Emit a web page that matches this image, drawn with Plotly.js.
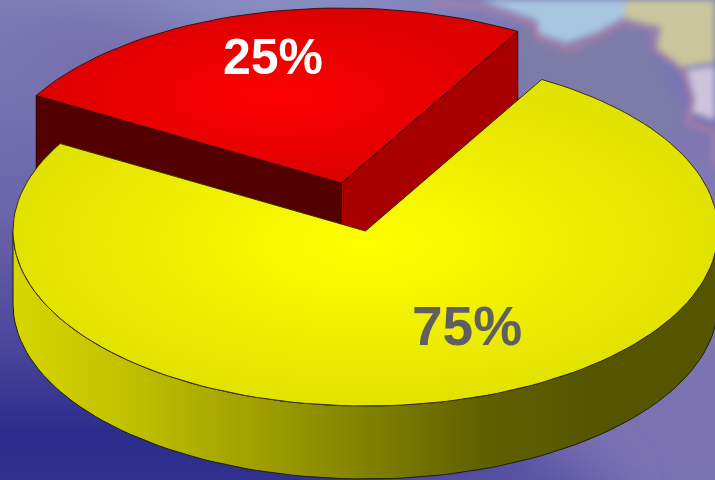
<!DOCTYPE html>
<html><head><meta charset="utf-8">
<script src="https://cdn.plot.ly/plotly-3.0.1.min.js"></script>
<style>html,body{margin:0;padding:0;background:#6a64a8;overflow:hidden}#c{width:715px;height:480px}</style>
</head><body><div id="c"></div>
<script>
const categories = ['25%', '75%'];
const values = [25, 75];
const topStops = [['#ff0000', '#dc0000'], ['#ffff00', '#e2e200']];
const labelColors = ['#ffffff', '#5f5f5f'];

// Projection of the tilted disc
const W = 715, H = 480;
const cx = 365.5, cy = 231, rx = 352.5, ry = 175, depth = 73;
const startAngle = 60;
const explode = [[-24, -48], [0, 0]];
const labelPos = [[273, 61], [467, 331]];

const total = values.reduce((a, b) => a + b, 0);
const pt = (deg, dx, dy, drop) => [
  cx + dx + rx * Math.cos(deg * Math.PI / 180),
  cy + dy + (drop || 0) - ry * Math.sin(deg * Math.PI / 180)
];
function arc(a0, a1, dx, dy, drop) {
  const n = Math.max(2, Math.ceil(Math.abs(a1 - a0) / 2)), out = [];
  for (let i = 0; i <= n; i++) out.push(pt(a0 + (a1 - a0) * i / n, dx, dy, drop));
  return out;
}
const poly = (pts, extra) => Object.assign({
  type: 'scatter', mode: 'lines', hoverinfo: 'skip', showlegend: false,
  x: pts.map(p => p[0]), y: pts.map(p => p[1]), fill: 'toself',
  line: {color: '#2a2210', width: 1}
}, extra);

// Slice angles from the values
let a = startAngle;
const slices = values.map((v, i) => {
  const s = {a0: a, a1: a + v / total * 360, dx: explode[i][0], dy: explode[i][1]};
  a = s.a1; return s;
});
const traces = [];

// Red slice
{
  const s = slices[0], apex = [cx + s.dx, cy + s.dy];
  const down = p => [p[0], p[1] + depth];
  const r0 = pt(s.a0, s.dx, s.dy), r1 = pt(s.a1, s.dx, s.dy);
  traces.push(poly([apex, r1, down(r1), down(apex), apex], {fillcolor: '#520000', line: {color: '#2a0000', width: 1}}));
  traces.push(poly([apex, r0, down(r0), down(apex), apex], {fillcolor: '#a80000', line: {color: '#3a0000', width: 1}}));
  traces.push(poly([apex].concat(arc(s.a0, s.a1, s.dx, s.dy), [apex]), {
    fillgradient: {type: 'radial', colorscale: [[0, topStops[0][0]], [1, topStops[0][1]]]},
    line: {color: '#3a1010', width: 1}
  }));
}
// Yellow slice
{
  const s = slices[1], apex = [cx, cy];
  const front = arc(180, 360, 0, 0, 0), back = arc(360, 180, 0, 0, depth);
  traces.push(poly(front.concat(back, [front[0]]), {
    fillgradient: {type: 'horizontal', start: 13, stop: 600, colorscale: [
      [0, '#d6d600'], [0.2, '#c0c000'], [0.5, '#929200'], [0.8, '#606000'], [1, '#555500']]},
    line: {color: '#1e1e00', width: 1}
  }));
  traces.push(poly([apex].concat(arc(s.a0, s.a1, 0, 0), [apex]), {
    fillgradient: {type: 'radial', colorscale: [[0, topStops[1][0]], [1, topStops[1][1]]]},
    line: {color: '#3a3010', width: 1}
  }));
}
// Labels
traces.push({
  type: 'scatter', mode: 'text', hoverinfo: 'skip', showlegend: false,
  x: labelPos.map(p => p[0]), y: labelPos.map(p => p[1]), text: categories,
  textposition: 'middle center',
  textfont: {family: '"Liberation Sans", Arial, sans-serif', size: [50, 55], weight: 700, color: labelColors}
});

// Soft background picture: blurred map behind the chart
const bg = `<svg xmlns="http://www.w3.org/2000/svg" width="715" height="480" viewBox="0 0 715 480">
<defs><linearGradient id="g" x1="0" y1="0" x2="0" y2="1">
<stop offset="0" stop-color="#7e7eb8"/><stop offset=".45" stop-color="#6a64a8"/>
<stop offset=".72" stop-color="#4a469c"/><stop offset=".9" stop-color="#2c2c8c"/><stop offset="1" stop-color="#30308e"/></linearGradient>
<filter id="b" filterUnits="userSpaceOnUse" x="-300" y="-300" width="1400" height="1100"><feGaussianBlur stdDeviation="34"/></filter>
<filter id="s" filterUnits="userSpaceOnUse" x="-100" y="-100" width="950" height="700"><feGaussianBlur stdDeviation="3"/></filter>
<filter id="t" filterUnits="userSpaceOnUse" x="-100" y="-100" width="950" height="700"><feGaussianBlur stdDeviation="6"/></filter></defs>
<rect width="715" height="480" fill="url(#g)"/>
<ellipse cx="690" cy="400" rx="200" ry="150" fill="#7c72b2" filter="url(#b)"/>
<ellipse cx="660" cy="220" rx="160" ry="130" fill="#8078b4" filter="url(#b)"/>
<ellipse cx="480" cy="500" rx="130" ry="50" fill="#5a54a4" filter="url(#b)"/>
<ellipse cx="260" cy="-10" rx="200" ry="30" fill="#8c94c8" filter="url(#b)"/>
<ellipse cx="100" cy="50" rx="90" ry="26" fill="#7468a8" filter="url(#b)"/>
<g filter="url(#t)">
<path d="M516 30L540 20L600 35L625 22L650 30L655 60L672 95L688 125L640 145L570 95L516 95Z" fill="#7d7ca8"/>
</g>
<g filter="url(#s)">
<path d="M480 0L537 20L540 34L567 43L597 32L623 18L627 0Z" fill="#a8c6e0"/>
<path d="M627 0L623 18L660 27L657 50L683 67L715 62L715 0Z" fill="#c9c69c"/>
<path d="M687 70L715 66L715 120L692 112L695 98Z" fill="#cdc4dc"/>
<path d="M430 4L478 6L535 24L538 38L570 50L598 36L622 24L653 27L654 48L683 70L693 100L688 123L715 132L715 165" fill="none" stroke="#b67da4" stroke-width="5" stroke-linejoin="round" opacity=".75"/>
</g></svg>`;

const layout = {
  width: W, height: H, margin: {l: 0, r: 0, t: 0, b: 0},
  paper_bgcolor: 'rgba(0,0,0,0)', plot_bgcolor: 'rgba(0,0,0,0)',
  xaxis: {range: [0, W], visible: false, fixedrange: true},
  yaxis: {range: [H, 0], visible: false, fixedrange: true},
  images: [{source: 'data:image/svg+xml;base64,' + btoa(bg), xref: 'paper', yref: 'paper',
    x: 0, y: 1, sizex: 1, sizey: 1, xanchor: 'left', yanchor: 'top', sizing: 'stretch', layer: 'below'}],
  showlegend: false
};
Plotly.newPlot('c', traces, layout, {displayModeBar: false, staticPlot: true});
</script></body></html>
